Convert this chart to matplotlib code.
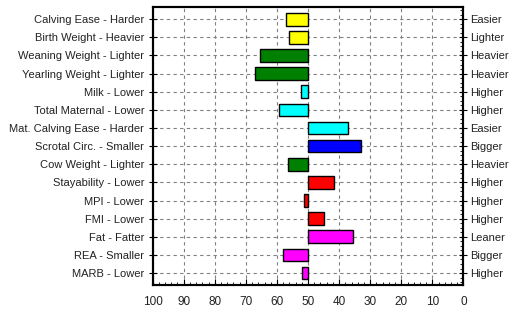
import matplotlib
matplotlib.use("Agg")
import matplotlib.pyplot as plt
from matplotlib.ticker import MultipleLocator

traits = ["Calving Ease - Harder", "Birth Weight - Heavier", "Weaning Weight - Lighter",
          "Yearling Weight - Lighter", "Milk - Lower", "Total Maternal - Lower",
          "Mat. Calving Ease - Harder", "Scrotal Circ. - Smaller", "Cow Weight - Lighter",
          "Stayability - Lower", "MPI - Lower", "FMI - Lower", "Fat - Fatter",
          "REA - Smaller", "MARB - Lower"]
right_labels = ["Easier", "Lighter", "Heavier", "Heavier", "Higher", "Higher", "Easier",
                "Bigger", "Heavier", "Higher", "Higher", "Higher", "Leaner", "Bigger", "Higher"]
values = [57, 56, 65.5, 67, 52.3, 59.4, 37.2, 33.1, 56.4, 41.7, 51.2, 44.8, 35.5, 58.1, 52]
colors = ["yellow", "yellow", "green", "green", "cyan", "cyan", "cyan", "blue", "green",
          "red", "red", "red", "magenta", "magenta", "magenta"]
center = 50

plt.rcParams['font.family'] = ['Liberation Sans', 'DejaVu Sans']
fig = plt.figure(figsize=(5.19, 3.11), dpi=100)
ax = fig.add_axes([0.294, 0.084, 0.599, 0.894])

ypos = list(range(len(traits)))
widths = [v - center for v in values]
ax.barh(ypos, widths, left=center, height=0.7, color=colors, edgecolor="black",
        linewidth=1, zorder=3)

ax.set_xlim(100, 0)
ax.set_ylim(14.65, -0.68)
ax.xaxis.set_major_locator(MultipleLocator(10))
ax.xaxis.set_minor_locator(MultipleLocator(2))
ax.set_yticks(ypos)
ax.set_yticklabels(traits, fontsize=8, color="#222222")
ax.tick_params(axis="x", which="both", direction="in", labelsize=8.5, pad=8,
               labelcolor="#222222")
ax.tick_params(axis="x", which="major", length=4)
ax.tick_params(axis="x", which="minor", length=2)
ax.tick_params(axis="y", direction="inout", length=6, pad=3)

ax.grid(True, which="major", linestyle=(0, (3, 3)), color="#808080", linewidth=0.8, zorder=0)

ax2 = ax.twinx()
ax2.set_ylim(ax.get_ylim())
ax2.set_yticks(ypos)
ax2.set_yticklabels(right_labels, fontsize=8, color="#222222")
ax2.yaxis.set_minor_locator(MultipleLocator(0.25))
ax2.tick_params(axis="y", which="major", direction="inout", length=6, pad=2)
ax2.tick_params(axis="y", which="minor", direction="in", length=2)

for a in (ax, ax2):
    for s in a.spines.values():
        s.set_linewidth(1.5)

fig.savefig("out.png", dpi=100)
